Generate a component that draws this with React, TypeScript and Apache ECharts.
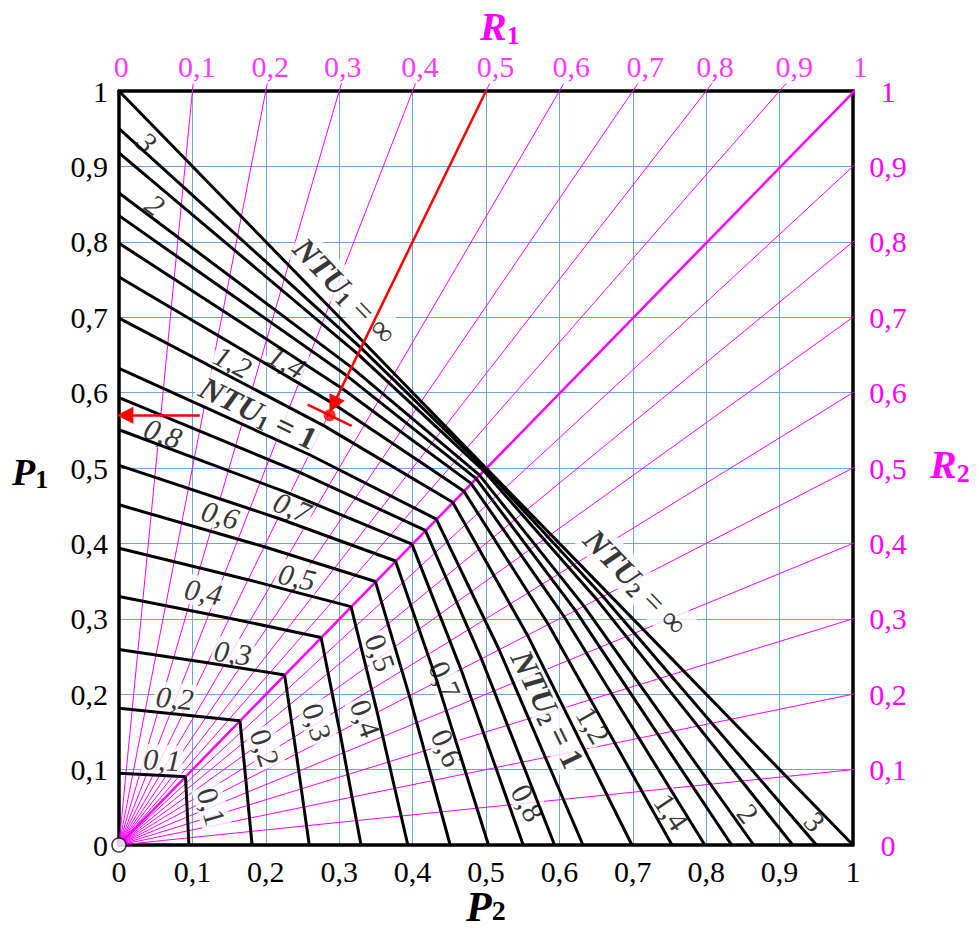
import React, { useEffect, useRef } from 'react';
import * as echarts from 'echarts';

// ---------- data ----------
const TICK_LABELS = ['0', '0,1', '0,2', '0,3', '0,4', '0,5', '0,6', '0,7', '0,8', '0,9', '1'];
const R_VALUES = [0.1, 0.2, 0.3, 0.4, 0.5, 0.6, 0.7, 0.8, 0.9];
// NTU curves (parallel flow)
const NTU_VALUES = ['0,1', '0,2', '0,3', '0,4', '0,5', '0,6', '0,7', '0,8', '0,9', '1', '1,2', '1,4', '1,6', '1,8', '2', '2,5', '3', '∞'];
// P1 where the curve meets the left axis (R1 = 0)
const P1_AT_R0 = [0.0952, 0.1813, 0.2592, 0.3297, 0.3935, 0.4512, 0.5034, 0.5507, 0.5934, 0.6321, 0.6988, 0.7534, 0.7981, 0.8347, 0.8647, 0.9179, 0.9502, 1.0];
// P1 where the curve crosses the R1 = 0.5 ray (P2 = 0.5 P1)
const P1_AT_RHALF = [0.0929, 0.1728, 0.2416, 0.3008, 0.3518, 0.3956, 0.4334, 0.4659, 0.4938, 0.5179, 0.5565, 0.5850, 0.6062, 0.6219, 0.6335, 0.6510, 0.6593, 0.6667];
// P1 = P2 where the curve meets the diagonal (R1 = 1)
const P_DIAG = [0.0906, 0.1648, 0.2256, 0.2753, 0.3161, 0.3494, 0.3767, 0.3991, 0.4174, 0.4323, 0.4546, 0.4696, 0.4796, 0.4863, 0.4908, 0.4966, 0.4988, 0.5];

// operating point
const POINT_R1 = 0.5;
const POINT_P1 = 0.57;
const POINT_P2 = 0.287;

// ---------- annotations (data coordinates) ----------
const TOP_LABEL_X = [0.003, 0.106, 0.206, 0.305, 0.41, 0.513, 0.616, 0.717, 0.812, 0.92, 1.01];
const UPPER_CURVE_LABELS: [string, number, number, number][] = [
  ['3', 0.038, 0.932, -42],
  ['2', 0.049, 0.849, -37],
  ['1,2', 0.155, 0.641, -28],
  ['1,4', 0.229, 0.641, -29],
  ['0,8', 0.06, 0.546, -20],
  ['0,7', 0.236, 0.448, -22],
  ['0,6', 0.138, 0.438, -16],
  ['0,5', 0.2425, 0.3555, -13],
  ['0,4', 0.115, 0.336, -11],
  ['0,3', 0.155, 0.255, -8],
  ['0,2', 0.076, 0.195, -6],
  ['0,1', 0.0585, 0.113, -3],
];
const LOWER_CURVE_LABELS: [string, number, number, number][] = [
  ['0,1', 0.126, 0.051, -74],
  ['0,2', 0.199, 0.129, -72],
  ['0,3', 0.27, 0.163, -72],
  ['0,4', 0.336, 0.168, -70],
  ['0,5', 0.356, 0.255, -70],
  ['0,6', 0.447, 0.129, -66],
  ['0,7', 0.444, 0.219, -66],
  ['0,8', 0.557, 0.056, -62],
  ['1,2', 0.646, 0.159, -60],
  ['1,4', 0.753, 0.044, -56],
  ['2', 0.857, 0.042, -52],
  ['3', 0.948, 0.031, -48],
];
const NTU_LABELS: [string, string, number, number, number][] = [
  ['1', ' = ∞', 0.308, 0.735, -46],
  ['1', ' = 1', 0.19, 0.573, -26],
  ['2', ' = ∞', 0.704, 0.349, -46],
  ['2', ' = 1', 0.584, 0.18, -64],
];

// ---------- styles ----------
const SERIF = '"Liberation Serif", "Times New Roman", serif';
const MAG = '#ff00ff';
const BLUE = '#6aa6dc';
const RED = '#ff0000';

function lineSeries(data: number[][], color: string, width: number, z: number) {
  return {
    type: 'line',
    data,
    symbol: 'none',
    showSymbol: false,
    lineStyle: { color, width },
    z,
    clip: false,
    silent: true,
    emphasis: { disabled: true },
  };
}

function buildOption() {
  const fmt = (v: number) => TICK_LABELS[Math.round(v * 10)] ?? '';
  const frame = { show: true, onZero: false, lineStyle: { color: '#000', width: 3.5 } };
  const series: any[] = [];

  // magenta R lines
  R_VALUES.forEach((r) => series.push(lineSeries([[0, 0], [r * 1.01, 1.01]], MAG, 1, 2)));
  R_VALUES.forEach((r) => series.push(lineSeries([[0, 0], [1.014, r * 1.014]], MAG, 1, 2)));
  series.push(lineSeries([[0, 0], [1.012, 1.01]], MAG, 2.5, 2));

  // black NTU curves
  NTU_VALUES.forEach((_, i) => {
    const a = P1_AT_R0[i];
    const b = P1_AT_RHALF[i];
    const c = P_DIAG[i];
    series.push(lineSeries([[0, a], [0.5 * b, b], [c, c]], '#000', 3, 5));
    series.push(lineSeries([[c, c], [b, 0.5 * b], [a, 0]], '#000', 3, 5));
  });

  // curve labels
  const labelBase = {
    show: true,
    position: 'inside',
    fontFamily: SERIF,
    fontSize: 30,
    color: '#000',
    backgroundColor: '#fff',
    padding: [0, 2],
  };
  const mkLabels = (list: [string, number, number, number][], italic: boolean) => ({
    type: 'scatter',
    symbolSize: 1,
    itemStyle: { color: 'transparent' },
    z: 3,
    clip: false,
    silent: true,
    emphasis: { disabled: true },
    label: { ...labelBase, fontStyle: italic ? 'italic' : 'normal' },
    data: list.map(([t, x, y, rot]) => ({ value: [x, y], label: { formatter: t, rotate: rot } })),
  });
  series.push(mkLabels(UPPER_CURVE_LABELS, true));
  series.push(mkLabels(LOWER_CURVE_LABELS, false));

  series.push({
    type: 'scatter',
    symbolSize: 1,
    itemStyle: { color: 'transparent' },
    z: 3,
    clip: false,
    silent: true,
    emphasis: { disabled: true },
    label: {
      show: true,
      position: 'inside',
      backgroundColor: '#fff',
      padding: [0, 3],
      rich: {
        a: { fontFamily: SERIF, fontSize: 32, fontWeight: 'bold', fontStyle: 'italic', color: '#000', lineHeight: 36 },
        s: { fontFamily: SERIF, fontSize: 21, fontWeight: 'bold', color: '#000', lineHeight: 22, verticalAlign: 'bottom' },
        b: { fontFamily: SERIF, fontSize: 32, fontWeight: 'bold', color: '#000', lineHeight: 36 },
        c: { fontFamily: SERIF, fontSize: 32, color: '#000', lineHeight: 36 },
      },
    },
    data: NTU_LABELS.map(([sub, rest, x, y, rot]) => ({
      value: [x, y],
      label: { formatter: `{a|NTU}{s|${sub}}{${rest.includes('∞') ? 'c' : 'b'}|${rest}}`, rotate: rot },
    })),
  });

  // top R1 labels
  series.push({
    type: 'scatter',
    symbolSize: 1,
    itemStyle: { color: 'transparent' },
    z: 3,
    clip: false,
    silent: true,
    emphasis: { disabled: true },
    label: { show: true, position: 'inside', fontFamily: SERIF, fontSize: 30, color: MAG },
    data: TOP_LABEL_X.map((x, i) => ({ value: [x, 1.033], label: { formatter: TICK_LABELS[i] } })),
  });

  // red construction
  series.push({
    type: 'lines',
    coordinateSystem: 'cartesian2d',
    z: 7,
    silent: true,
    symbol: ['none', 'triangle'],
    symbolSize: [14, 17],
    lineStyle: { color: RED, width: 2.5, opacity: 1 },
    data: [
      { coords: [[POINT_R1, 1], [POINT_R1 * (POINT_P1 + 0.014), POINT_P1 + 0.014]] },
      { coords: [[0.11, POINT_P1], [0.008, POINT_P1]] },
    ],
  });
  series.push(lineSeries([[POINT_P2 - 0.03, POINT_P1 + 0.014], [POINT_P2 + 0.03, POINT_P1 - 0.014]], RED, 2.5, 7));
  series.push({
    type: 'scatter',
    symbol: 'circle',
    symbolSize: 12,
    itemStyle: { color: RED },
    z: 8,
    silent: true,
    data: [[POINT_P2, POINT_P1]],
  });
  // origin circle
  series.push({
    type: 'scatter',
    symbol: 'circle',
    symbolSize: 14,
    itemStyle: { color: '#fff', borderColor: '#000', borderWidth: 1.5 },
    z: 9,
    clip: false,
    silent: true,
    data: [[0, 0]],
  });

  const title = (x: number, y: number, main: string, sub: string, color: string, size: number, lh: number, subSize: number, subLh: number) => ({
    type: 'text',
    x,
    y,
    z: 100,
    silent: true,
    style: {
      text: `{m|${main}}{s|${sub}}`,
      align: 'left',
      verticalAlign: 'middle',
      rich: {
        m: { fontFamily: SERIF, fontSize: size, fontWeight: 'bold', fontStyle: 'italic', fill: color, lineHeight: lh },
        s: { fontFamily: SERIF, fontSize: subSize, fontWeight: 'bold', fill: color, lineHeight: subLh, verticalAlign: 'bottom' },
      },
    },
  });

  return {
    animation: false,
    backgroundColor: '#fff',
    grid: { left: 119, top: 91, width: 734, height: 754, containLabel: false },
    xAxis: [
      {
        type: 'value', position: 'bottom', min: 0, max: 1, interval: 0.1,
        axisLine: frame, axisTick: { show: false },
        splitLine: { show: true, lineStyle: { color: BLUE, width: 1 } },
        axisLabel: { show: true, formatter: fmt, fontFamily: SERIF, fontSize: 30, color: '#000', margin: 11, showMinLabel: true, showMaxLabel: true },
      },
      {
        type: 'value', position: 'top', min: 0, max: 1, interval: 0.1,
        axisLine: frame, axisTick: { show: false }, splitLine: { show: false }, axisLabel: { show: false },
      },
    ],
    yAxis: [
      {
        type: 'value', position: 'left', min: 0, max: 1, interval: 0.1,
        axisLine: frame, axisTick: { show: false },
        splitLine: { show: true, lineStyle: { color: BLUE, width: 1 } },
        axisLabel: { show: true, formatter: fmt, fontFamily: SERIF, fontSize: 30, color: '#000', margin: 11, showMinLabel: true, showMaxLabel: true },
      },
      {
        type: 'value', position: 'right', min: 0, max: 1, interval: 0.1,
        axisLine: frame, axisTick: { show: false }, splitLine: { show: false },
        axisLabel: { show: true, formatter: fmt, fontFamily: SERIF, fontSize: 30, color: MAG, margin: 35, align: 'center', showMinLabel: true, showMaxLabel: true },
      },
    ],
    series,
    graphic: [
      title(480, 26, 'R', '1', MAG, 40, 44, 26, 16),
      title(930, 464, 'R', '2', MAG, 40, 44, 26, 22),
      title(12, 472, 'P', '1', '#000', 38, 40, 26, 22),
      title(466, 907, 'P', '2', '#000', 42, 34, 28, 18),
    ],
  };
}

export default function App() {
  const ref = useRef<HTMLDivElement>(null);
  useEffect(() => {
    if (!ref.current) return;
    const chart = echarts.init(ref.current, null, { renderer: 'svg' });
    chart.setOption(buildOption() as any);
    return () => chart.dispose();
  }, []);
  return (
    <div
      ref={ref}
      style={{ position: 'absolute', left: 0, top: 0, width: 979, height: 932, background: '#fff' }}
    />
  );
}
